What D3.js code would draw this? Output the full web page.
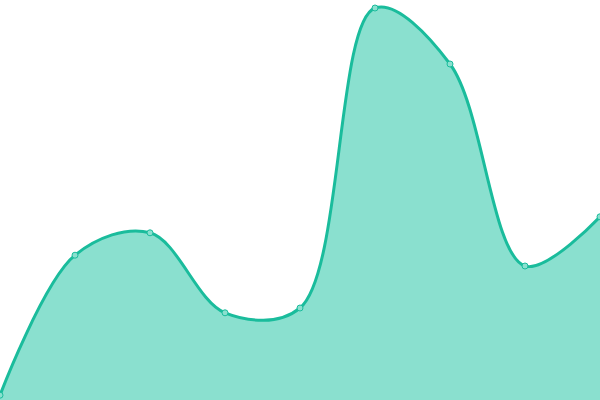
<!DOCTYPE html>
<html>
<head>
<meta charset="utf-8">
<script src="https://cdn.jsdelivr.net/npm/d3@7"></script>
<style>
  html, body { margin: 0; padding: 0; background: #fff; }
  svg { display: block; }
</style>
</head>
<body>
<div id="chart"></div>
<script>
/*  Data  */
var labels = [0, 1, 2, 3, 4, 5, 6, 7, 8];
var values = [1.2, 36.2, 41.8, 21.8, 23, 98, 84, 33.5, 45.8];

var width = 600, height = 400;

var svg = d3.select("#chart")
            .append("svg")
            .attr("xmlns", "http://www.w3.org/2000/svg")
            .attr("width", width)
            .attr("height", height);

var x = d3.scaleLinear().domain([0, labels.length - 1]).range([0, width]);
var y = d3.scaleLinear().domain([0, 100]).range([height, 0]);

var pts = labels.map(function(l, i){ return [l, values[i]]; });

var area = d3.area()
             .x(function(d){ return x(d[0]); })
             .y0(height)
             .y1(function(d){ return y(d[1]); })
             .curve(d3.curveCatmullRom.alpha(0.5));

var line = d3.line()
             .x(function(d){ return x(d[0]); })
             .y(function(d){ return y(d[1]); })
             .curve(d3.curveCatmullRom.alpha(0.5));

svg.append("path")
   .attr("d", area(pts))
   .style("fill", "#8ae0cf");

svg.append("path")
   .attr("d", line(pts))
   .style("fill", "none")
   .style("stroke", "#1abc9c")
   .style("stroke-width", 3);

svg.selectAll("circle.pt")
   .data(pts)
   .enter()
   .append("circle")
   .attr("class", "pt")
   .attr("cx", function(d){ return x(d[0]); })
   .attr("cy", function(d){ return y(d[1]); })
   .attr("r", 3)
   .style("fill", "#8ae0cf")
   .style("stroke", "#1abc9c")
   .style("stroke-width", 1);
</script>
</body>
</html>
